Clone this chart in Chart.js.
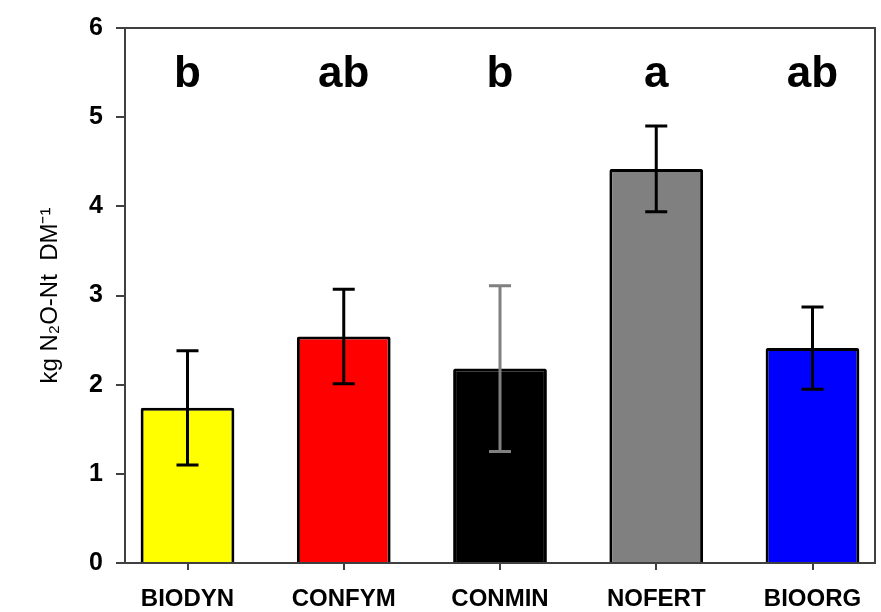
<!DOCTYPE html>
<html>
<head>
<meta charset="utf-8">
<script src="https://cdn.jsdelivr.net/npm/chart.js@4.4.1/dist/chart.umd.min.js"></script>
<style>
    html, body { margin: 0; padding: 0; background: #fff; }
    #wrap { width: 881px; height: 612px; }
</style>
</head>
<body>
<div id="wrap"><canvas id="chart" width="881" height="612"></canvas></div>
<script>
// --- Data ---
const treatments = ['BIODYN', 'CONFYM', 'CONMIN', 'NOFERT', 'BIOORG'];
const means = [1.74, 2.54, 2.18, 4.42, 2.41];
const errors = [0.64, 0.53, 0.93, 0.48, 0.46];
const letters = ['b', 'ab', 'b', 'a', 'ab'];
const yTicks = [0, 1, 2, 3, 4, 5, 6];

// --- Styles ---
const barColors = ['#ffff00', '#ff0000', '#000000', '#808080', '#0000ff'];
const errColors = ['#000000', '#000000', '#808080', '#000000', '#000000'];
const axisColor = '#404040';
const letterLevel = 5.48;

Chart.defaults.font.family = "'Liberation Sans', Arial, sans-serif";
Chart.defaults.color = '#000';

// frame round the plot area (top and right sides)
const framePlugin = {
    id: 'frame',
    beforeDatasetsDraw(chart) {
        const { ctx, chartArea: a } = chart;
        ctx.save();
        ctx.strokeStyle = axisColor;
        ctx.lineWidth = 2;
        ctx.strokeRect(a.left, a.top, a.right - a.left, a.bottom - a.top);
        ctx.restore();
    }
};

// error bars
const errorBarPlugin = {
    id: 'errorBars',
    afterDatasetsDraw(chart) {
        const { ctx, scales: { y } } = chart;
        const meta = chart.getDatasetMeta(0);
        ctx.save();
        ctx.lineWidth = 3;
        meta.data.forEach((bar, i) => {
            const top = y.getPixelForValue(means[i] + errors[i]);
            const bot = y.getPixelForValue(means[i] - errors[i]);
            const cap = 11;
            ctx.strokeStyle = errColors[i];
            ctx.beginPath();
            ctx.moveTo(bar.x, top);
            ctx.lineTo(bar.x, bot);
            ctx.moveTo(bar.x - cap, top);
            ctx.lineTo(bar.x + cap, top);
            ctx.moveTo(bar.x - cap, bot);
            ctx.lineTo(bar.x + cap, bot);
            ctx.stroke();
        });
        ctx.restore();
    }
};

// significance letters
const letterPlugin = {
    id: 'letters',
    afterDraw(chart) {
        const { ctx, scales: { x, y } } = chart;
        ctx.save();
        ctx.font = "bold 44px 'Liberation Sans', Arial, sans-serif";
        ctx.fillStyle = '#000';
        ctx.textAlign = 'center';
        ctx.textBaseline = 'middle';
        letters.forEach((l, i) => {
            ctx.fillText(l, x.getPixelForValue(i), y.getPixelForValue(letterLevel));
        });
        ctx.restore();
    }
};

new Chart(document.getElementById('chart'), {
    type: 'bar',
    data: {
        datasets: [{
            data: means.map((v, i) => ({ x: i, y: v })),
            backgroundColor: barColors,
            borderColor: '#000',
            borderWidth: 3,
            borderRadius: 2,
            barPercentage: 0.6,
            categoryPercentage: 1.0,
        }]
    },
    options: {
        responsive: false,
        animation: false,
        layout: { padding: { top: 18, right: 6, left: 0, bottom: 0 } },
        plugins: { legend: { display: false }, tooltip: { enabled: false } },
        scales: {
            x: {
                type: 'linear',
                offset: false,
                min: -0.4,
                max: 4.4,
                afterBuildTicks: (s) => { s.ticks = treatments.map((_, i) => ({ value: i })); },
                afterFit: (s) => { s.height = 49; },
                ticks: {
                    callback: (v) => treatments[v],
                    font: { size: 24, weight: 'bold' },
                    color: '#000',
                    padding: 15,
                    maxRotation: 0,
                    autoSkip: false,
                },
                grid: { offset: false, drawOnChartArea: false, drawTicks: true, tickLength: 7, color: axisColor, lineWidth: 2 },
                border: { display: true, color: axisColor, width: 2 },
            },
            y: {
                min: 0,
                max: 6,
                afterBuildTicks: (s) => { s.ticks = yTicks.map(v => ({ value: v })); },
                afterFit: (s) => { s.width = 125; },
                ticks: {
                    font: { size: 25, weight: 'bold' },
                    color: '#000',
                    padding: 13,
                },
                grid: { drawOnChartArea: false, drawTicks: true, tickLength: 9, color: axisColor, lineWidth: 2 },
                border: { display: true, color: axisColor, width: 2 },
                title: {
                    display: true,
                    text: 'kg N\u2082O-Nt  DM\u207B\u00B9',
                    font: { size: 24 },
                    color: '#000',
                    padding: { top: 36, bottom: 0 },
                },
            }
        }
    },
    plugins: [framePlugin, errorBarPlugin, letterPlugin]
});
</script>
</body>
</html>
